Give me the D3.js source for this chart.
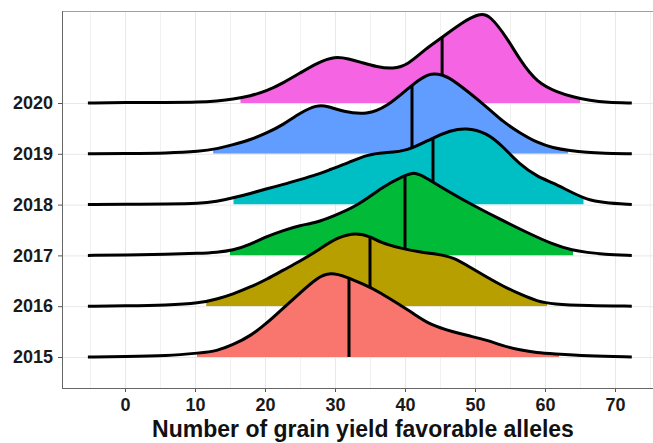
<!DOCTYPE html>
<html>
<head>
<meta charset="utf-8">
<script src="https://cdn.jsdelivr.net/npm/d3@7"></script>
<style>
  body { margin: 0; background: #fff; }
  svg { display: block; font-family: "Liberation Sans", Arial, sans-serif; }
  .tick text { font-size: 18px; font-weight: bold; fill: #1a1a1a; }
  .tick line { stroke: #555; }
</style>
</head>
<body>
<script>
//years, bottom ridge first
var years = ["2015", "2016", "2017", "2018", "2019", "2020"];
var colors = ["#F8766D", "#B79F00", "#00BA38", "#00BFC4", "#619CFF", "#F564E3"];
var medians = [32, 35, 40, 44, 41, 45.3];
//range of the observed data (filled part)
var fillStart = [10.3, 11.6, 15, 15.5, 12.6, 16.5];
var fillEnd = [62, 60.3, 64, 65.5, 63.3, 65];
var xTicks = [0, 10, 20, 30, 40, 50, 60, 70];

//density estimates read off the ridges
var x2015 = [-5.3, 0, 6, 10.7, 13.1, 15.4, 17.9, 20.3, 22.6, 25, 27.4, 29.3, 31.7, 34, 36.4, 39.7, 41.1, 43.6, 46.9, 49.3, 51.7, 54, 56.4, 58.9, 61.1, 66, 72.4];
var d2015 = [0, .0002, .0006, .0024, .0035, .0071, .0123, .0200, .0288, .0376, .0465, .0500, .0471, .0429, .0382, .0294, .0259, .0188, .0147, .0123, .0100, .0065, .0041, .0024, .0018, .0006, 0];

var x2016 = [-5.3, 0, 6, 10.7, 13.1, 15.4, 17.9, 20.3, 22.6, 25, 27.4, 30.3, 33.1, 35.2, 36.4, 39.3, 42.1, 44.6, 46.9, 49.3, 51.7, 54, 56.4, 58.9, 61.1, 66, 72.4];
var d2016 = [0, .0002, .0006, .0018, .0041, .0071, .0112, .0159, .0212, .0265, .0324, .0406, .0435, .0406, .0376, .0341, .0318, .0306, .0288, .0229, .0171, .0118, .0071, .0029, .0012, .0003, 0];

var x2017 = [-5.3, 0, 6, 10.7, 13.1, 15.4, 17.9, 20.3, 22.6, 25, 27.4, 29.6, 33.1, 36.9, 39.7, 41.5, 43.1, 45, 48.9, 53.6, 57.4, 61.1, 64, 66, 68.3, 72.4];
var d2017 = [0, .0002, .0006, .0012, .0018, .0029, .0065, .0112, .0147, .0176, .0194, .0229, .0288, .0406, .0465, .0494, .0453, .0406, .0312, .0212, .0135, .0065, .0029, .0018, .0006, 0];

var x2018 = [-5.3, 0, 6, 10.7, 13.1, 15.4, 17.9, 20.3, 22.6, 25, 27.4, 29.3, 32, 34.6, 37, 40.3, 44, 46.5, 48.6, 51.7, 54, 56.4, 58.9, 61.1, 63.6, 66, 68.3, 72.4];
var d2018 = [0, .0002, .0003, .0006, .0019, .0039, .0065, .0094, .0118, .0147, .0176, .0206, .0247, .0294, .0306, .0312, .0394, .0435, .0453, .0424, .0341, .0235, .0165, .0129, .0076, .0029, .0012, 0];

var x2019 = [-5.3, 0, 6, 10.7, 13.1, 15.4, 17.9, 20.3, 22.6, 25, 27.4, 28.9, 31.1, 34.6, 37.4, 40.7, 42.2, 43.7, 45.4, 46.9, 51.7, 54, 56.4, 58.9, 61.1, 63.6, 66, 68.3, 72.4];
var d2019 = [0, .0002, .0004, .0014, .0029, .0053, .0082, .0123, .0171, .0241, .0288, .0282, .0247, .0229, .0276, .0394, .0441, .0476, .0465, .0435, .0276, .0188, .0123, .0065, .0035, .0018, .0008, .0003, 0];

var x2020 = [-5.3, 0, 6, 10.7, 13.1, 15.4, 17.9, 20.3, 22.6, 25, 27.4, 30, 32, 33.6, 36, 38.3, 40.4, 42.9, 45.4, 48, 50.7, 52.1, 54.6, 56.4, 58.9, 61.7, 64, 66.4, 68.9, 72.4];
var d2020 = [0, .0003, .0003, .0004, .0012, .0022, .0041, .0071, .0118, .0176, .0235, .0276, .0259, .0241, .0212, .0200, .0224, .0318, .0388, .0471, .0529, .0518, .0382, .0253, .0118, .0065, .0035, .0014, .0003, 0];

var xs = [x2015, x2016, x2017, x2018, x2019, x2020];
var ds = [d2015, d2016, d2017, d2018, d2019, d2020];

var width = 653, height = 443;
//panel edges (right edge sits outside the picture)
var pLeft = 62, pRight = 662, pTop = 11, pBottom = 388;

var svg = d3.select("body").append("svg")
    .attr("width", width)
    .attr("height", height);

var x = d3.scaleLinear().domain([0, 70]).range([125, 615]);
var y = d3.scalePoint().domain(years).range([357, 103]);
var h = d3.scaleLinear().domain([0, 0.05]).range([0, 85]);

//grid lines
var grid = svg.append("g").attr("class", "grid");
grid.selectAll(".vgrid")
    .data(d3.range(-5, 80, 5))
    .enter().append("line")
    .attr("x1", function(d) { return x(d) + 0.5; })
    .attr("x2", function(d) { return x(d) + 0.5; })
    .attr("y1", pTop).attr("y2", pBottom)
    .style("stroke", function(d) { return d % 10 === 0 ? "#e8e8e8" : "#f1f1f1"; })
    .style("stroke-width", 1);
grid.selectAll(".hgrid")
    .data(years)
    .enter().append("line")
    .attr("x1", pLeft).attr("x2", pRight)
    .attr("y1", function(d) { return y(d) + 0.5; })
    .attr("y2", function(d) { return y(d) + 0.5; })
    .style("stroke", "#e8e8e8")
    .style("stroke-width", 1);

//top border of panel
svg.append("line")
    .attr("x1", pLeft).attr("x2", pRight)
    .attr("y1", pTop + 0.5).attr("y2", pTop + 0.5)
    .style("stroke", "#a0a0a0");

var defs = svg.append("defs");

//ridges, top one drawn first so lower ones overlap it
d3.range(years.length - 1, -1, -1).forEach(function(i) {
    var base = y(years[i]);
    var pts = xs[i].map(function(v, j) { return [v, ds[i][j]]; });

    defs.append("clipPath")
        .attr("id", "clip" + i)
        .append("rect")
        .attr("x", x(fillStart[i]))
        .attr("width", x(fillEnd[i]) - x(fillStart[i]))
        .attr("y", 0)
        .attr("height", base);

    var area = d3.area()
        .x(function(d) { return x(d[0]); })
        .y0(base)
        .y1(function(d) { return base - h(d[1]); })
        .curve(d3.curveBasis);

    var line = d3.line()
        .x(function(d) { return x(d[0]); })
        .y(function(d) { return base - h(d[1]); })
        .curve(d3.curveBasis);

    var g = svg.append("g").attr("class", "ridge");

    g.append("path")
        .datum(pts)
        .attr("d", area)
        .attr("clip-path", "url(#clip" + i + ")")
        .style("fill", colors[i]);

    var outline = g.append("path")
        .datum(pts)
        .attr("d", line)
        .style("fill", "none")
        .style("stroke", "#000")
        .style("stroke-width", 3)
        .style("stroke-linejoin", "round")
        .style("stroke-linecap", "butt");

    //find the curve height at the median by searching along the path
    var node = outline.node();
    var len = node.getTotalLength();
    var mx = x(medians[i]);
    var lo = 0, hi = len, p;
    for (var k = 0; k < 40; k++) {
        var mid = (lo + hi) / 2;
        p = node.getPointAtLength(mid);
        if (p.x < mx) lo = mid; else hi = mid;
    }

    g.append("line")
        .attr("x1", mx).attr("x2", mx)
        .attr("y1", base).attr("y2", p.y)
        .style("stroke", "#000")
        .style("stroke-width", 3);
});

//axes
var xAxis = svg.append("g")
    .attr("class", "axis")
    .attr("transform", "translate(0," + pBottom + ")")
    .call(d3.axisBottom(x).tickValues(xTicks).tickSize(4).tickSizeOuter(0).tickPadding(6));
xAxis.select(".domain").remove();

var yAxis = svg.append("g")
    .attr("class", "axis")
    .attr("transform", "translate(" + pLeft + ",0)")
    .call(d3.axisLeft(y).tickSize(4).tickSizeOuter(0).tickPadding(5));
yAxis.select(".domain").remove();

//axis lines
svg.append("line")
    .attr("x1", pLeft + 0.5).attr("x2", pLeft + 0.5)
    .attr("y1", pTop).attr("y2", pBottom)
    .style("stroke", "#666");
svg.append("line")
    .attr("x1", pLeft).attr("x2", pRight)
    .attr("y1", pBottom + 0.5).attr("y2", pBottom + 0.5)
    .style("stroke", "#666");

//axis title
svg.append("text")
    .attr("x", 363)
    .attr("y", 437)
    .attr("text-anchor", "middle")
    .style("font-size", "23px")
    .style("font-weight", "bold")
    .style("fill", "#111")
    .text("Number of grain yield favorable alleles");
</script>
</body>
</html>
